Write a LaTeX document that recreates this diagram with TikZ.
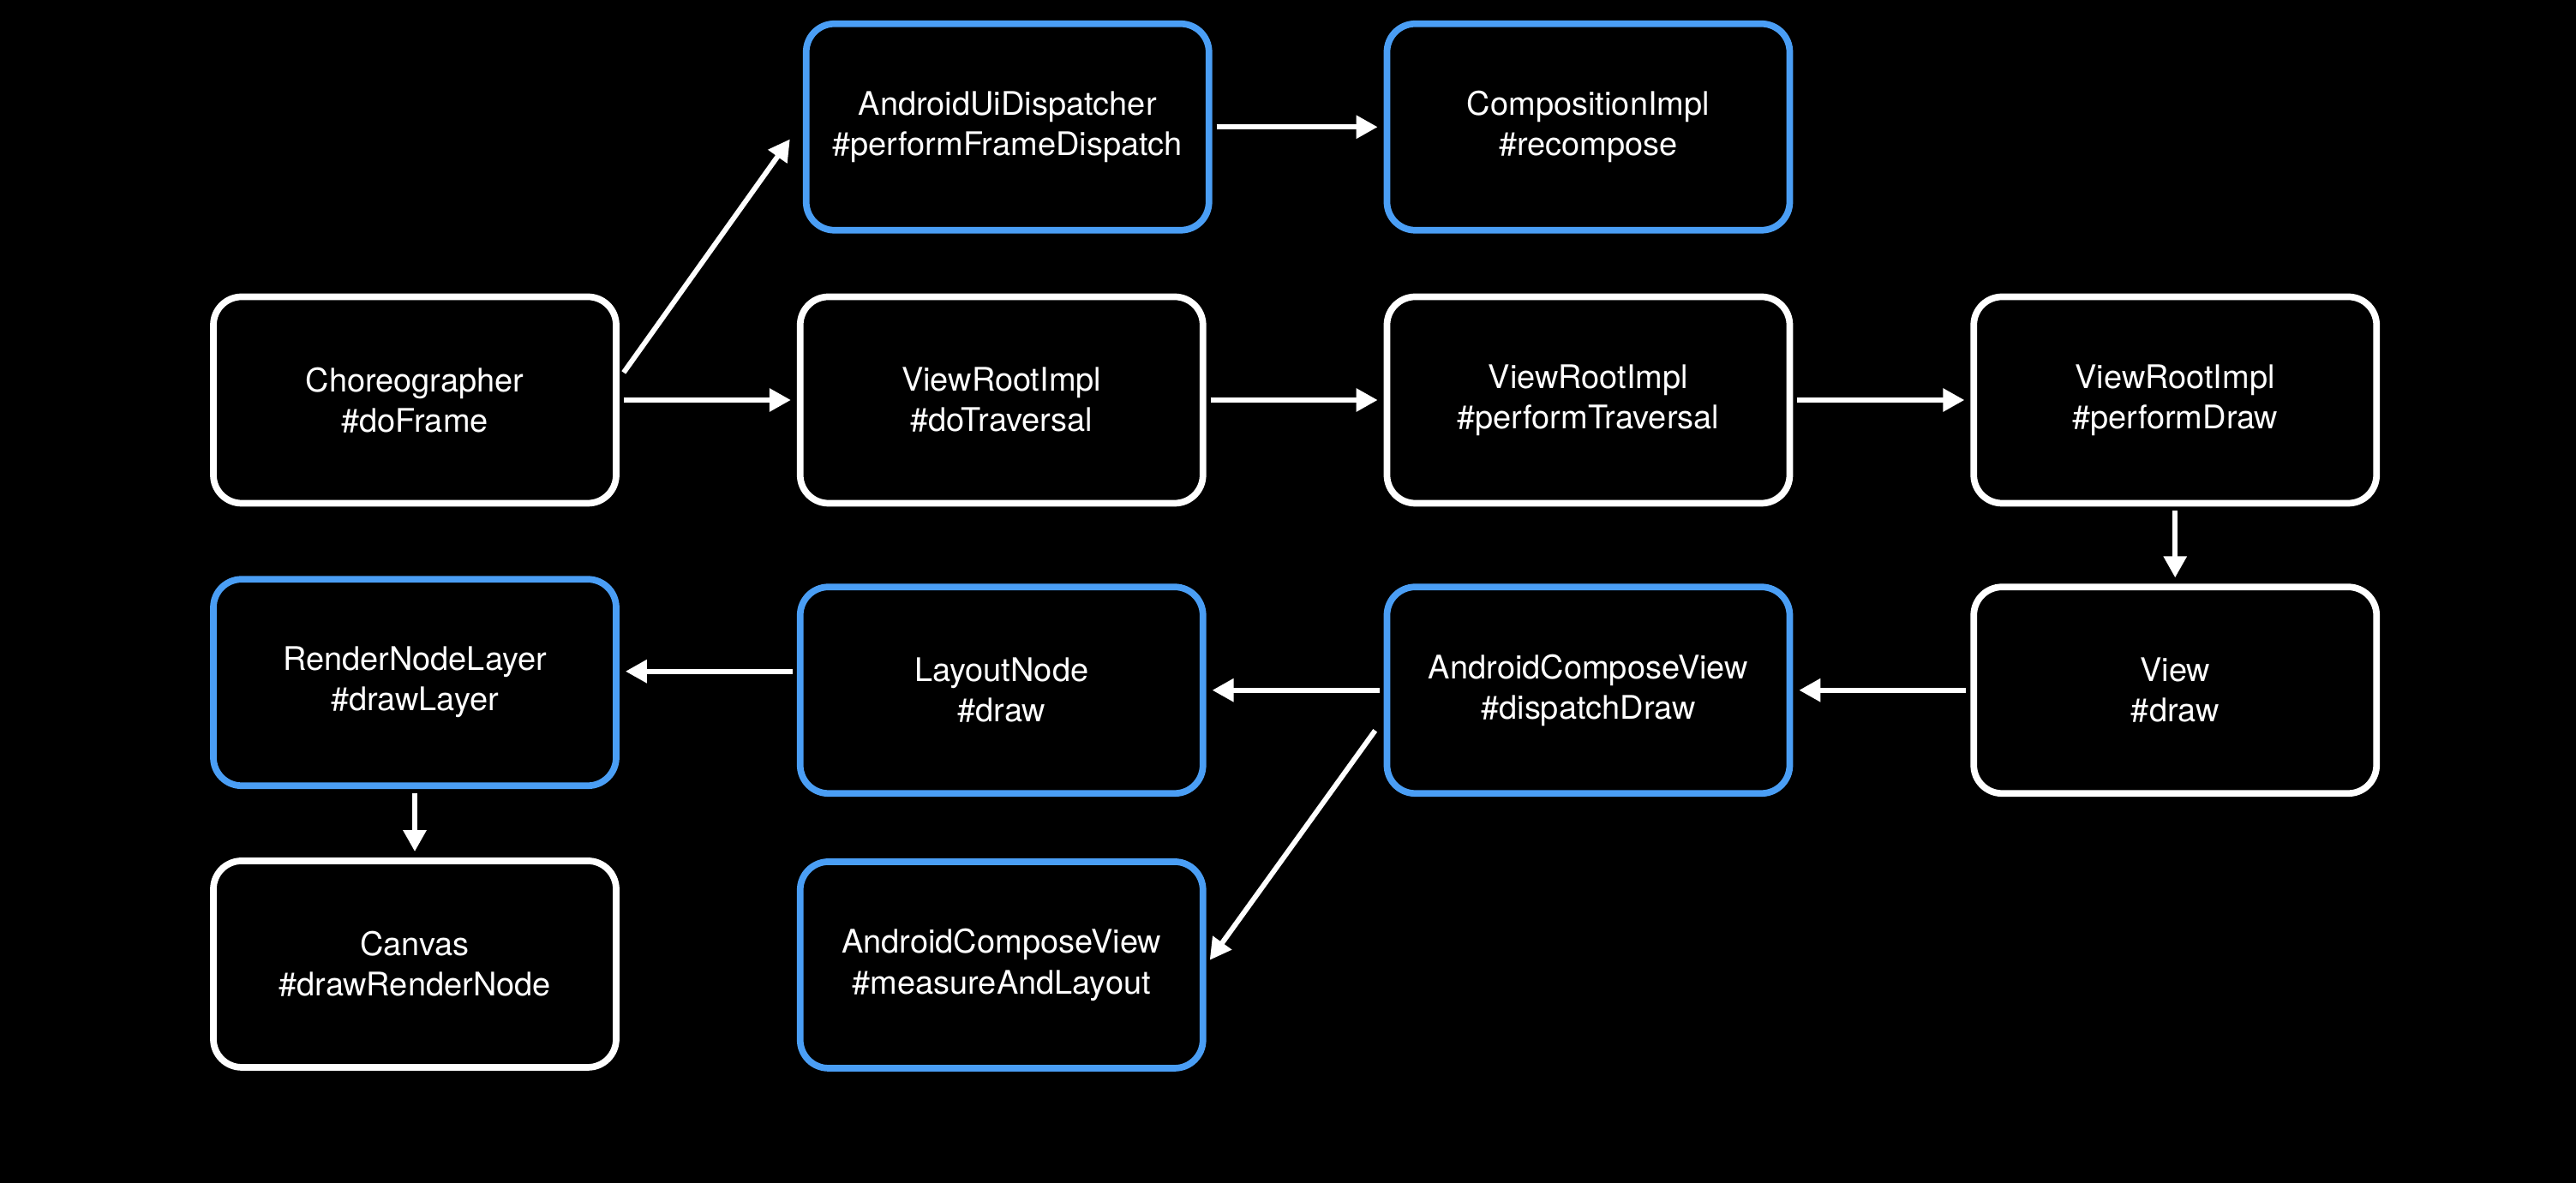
\documentclass[tikz,border=0pt]{standalone}
\usepackage{fontspec}
\setmainfont{TeX Gyre Heros}
\usepackage{tikz}
\usetikzlibrary{arrows.meta,positioning}
\definecolor{callblue}{RGB}{74,158,245}

\begin{document}
\begin{tikzpicture}[
  node distance=0.9cm and 2.07cm,
  frame/.style={rectangle, draw=white, rounded corners=3.3mm, line width=2.2pt,
    minimum width=4.7cm, minimum height=2.41cm, align=center, text=white,
    font=\fontsize{10.8}{13.4}\selectfont},
  compose/.style={frame, draw=callblue},
  arrow/.style={-{Triangle[length=2.5mm, width=2.6mm]}, white, line width=1.7pt,
    shorten <=0.5mm, shorten >=0.7mm}
]

% Background
\useasboundingbox (0,0) rectangle (30.06,13.8);
\fill[black] (-0.2,-0.2) rectangle (30.26,14);

% Frame row
\node[frame] (chor) at (4.84,9.13) {Choreographer\\\#doFrame};
\node[frame, right=of chor] (vri1) {ViewRootImpl\\\#doTraversal};
\node[frame, right=of vri1] (vri2) {ViewRootImpl\\\#performTraversal};
\node[frame, right=of vri2] (vri3) {ViewRootImpl\\\#performDraw};

% Recomposition row
\node[compose, above=0.7cm of vri1, xshift=0.07cm] (aud)
  {AndroidUiDispatcher\\\#performFrameDispatch};
\node[compose, above=0.7cm of vri2] (comp) {CompositionImpl\\\#recompose};

% Draw row (right to left)
\node[frame, below=of vri3] (view) {View\\\#draw};
\node[compose, left=of view] (acv) {AndroidComposeView\\\#dispatchDraw};
\node[compose, left=of acv] (lnode) {LayoutNode\\\#draw};
\node[compose, left=of lnode, yshift=0.09cm] (rnl) {RenderNodeLayer\\\#drawLayer};

% Bottom row
\node[frame, below=0.8cm of rnl] (canvas) {Canvas\\\#drawRenderNode};
\node[compose, below=0.72cm of lnode] (mal) {AndroidComposeView\\\#measureAndLayout};

% Connections
\draw[arrow] ([xshift=0.02cm, yshift=0.28cm]chor.east) -- ([xshift=-0.11cm, yshift=-0.085cm]aud.west);
\draw[arrow] (chor) -- (vri1);
\draw[arrow] (aud) -- (comp);
\draw[arrow] (vri1) -- (vri2);
\draw[arrow] (vri2) -- (vri3);
\draw[arrow] (vri3) -- (view);
\draw[arrow] (view) -- (acv);
\draw[arrow] (acv) -- (lnode);
\draw[arrow] ([yshift=0.22cm]lnode.west) -- ([yshift=0.13cm]rnl.east);
\draw[arrow] (rnl) -- (canvas);
\draw[arrow] ([xshift=-0.07cm, yshift=-0.43cm]acv.west) -- (mal.east);

\end{tikzpicture}
\end{document}
